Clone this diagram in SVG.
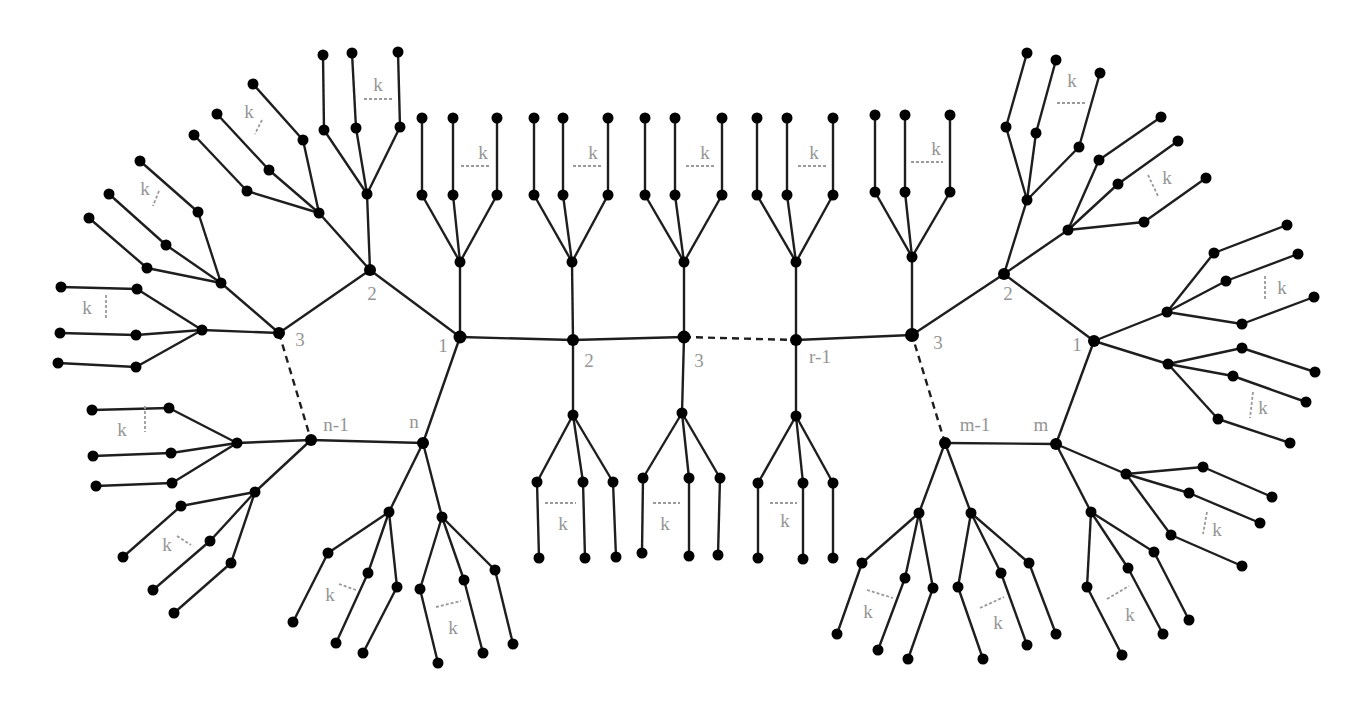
<svg xmlns="http://www.w3.org/2000/svg" width="1368" height="711" viewBox="0 0 1368 711">
<style>
.e line{stroke:#1e1e1e;stroke-width:2.4}
.e .d{stroke-dasharray:7 5}
circle{fill:#000}
.lb{font-family:"Liberation Serif",serif;font-size:19px;fill:#959595;text-anchor:middle}
.br{stroke:#9a9a9a;stroke-width:1.8;stroke-dasharray:3 2;fill:none}
</style>
<rect width="1368" height="711" fill="#fff"/>
<g id="connectors" class="e">
<line x1="460" y1="337" x2="370" y2="270"/>
<line x1="370" y1="270" x2="279" y2="333"/>
<line class="d" x1="279" y1="333" x2="311" y2="440"/>
<line x1="311" y1="440" x2="423" y2="443"/>
<line x1="423" y1="443" x2="460" y2="337"/>
<line x1="460" y1="337" x2="573" y2="340"/>
<line x1="573" y1="340" x2="684" y2="337"/>
<line class="d" x1="684" y1="337" x2="796" y2="340"/>
<line x1="796" y1="340" x2="912" y2="335"/>
<line x1="912" y1="335" x2="1004" y2="274"/>
<line x1="1004" y1="274" x2="1094" y2="341"/>
<line x1="1094" y1="341" x2="1056" y2="444"/>
<line x1="1056" y1="444" x2="945" y2="443"/>
<line class="d" x1="945" y1="443" x2="912" y2="335"/>
<!-- A -->
<line x1="370" y1="270" x2="367" y2="194"/><line x1="367" y1="194" x2="324" y2="130"/><line x1="367" y1="194" x2="356" y2="128"/><line x1="367" y1="194" x2="400" y2="127"/><line x1="324" y1="130" x2="323" y2="55"/><line x1="356" y1="128" x2="352" y2="53"/><line x1="400" y1="127" x2="398" y2="52"/>
<!-- B -->
<line x1="370" y1="270" x2="319" y2="213"/><line x1="319" y1="213" x2="303" y2="140"/><line x1="319" y1="213" x2="269" y2="170"/><line x1="319" y1="213" x2="247" y2="191"/><line x1="303" y1="140" x2="253" y2="84"/><line x1="269" y1="170" x2="217" y2="114"/><line x1="247" y1="191" x2="194" y2="135"/>
<!-- C -->
<line x1="279" y1="333" x2="221" y2="283"/><line x1="221" y1="283" x2="198" y2="212"/><line x1="221" y1="283" x2="166" y2="245"/><line x1="221" y1="283" x2="147" y2="268"/><line x1="198" y1="212" x2="140" y2="161"/><line x1="166" y1="245" x2="109" y2="194"/><line x1="147" y1="268" x2="89" y2="218"/>
<!-- D -->
<line x1="279" y1="333" x2="202" y2="330"/><line x1="202" y1="330" x2="137" y2="289"/><line x1="202" y1="330" x2="136" y2="335"/><line x1="202" y1="330" x2="136" y2="367"/><line x1="137" y1="289" x2="61" y2="287"/><line x1="136" y1="335" x2="60" y2="333"/><line x1="136" y1="367" x2="58" y2="363"/>
<!-- E -->
<line x1="311" y1="440" x2="237" y2="443"/><line x1="237" y1="443" x2="169" y2="408"/><line x1="237" y1="443" x2="171" y2="453"/><line x1="237" y1="443" x2="172" y2="483"/><line x1="169" y1="408" x2="92" y2="410"/><line x1="171" y1="453" x2="93" y2="456"/><line x1="172" y1="483" x2="96" y2="486"/>
<!-- F -->
<line x1="311" y1="440" x2="255" y2="492"/><line x1="255" y1="492" x2="181" y2="506"/><line x1="255" y1="492" x2="210" y2="541"/><line x1="255" y1="492" x2="231" y2="563"/><line x1="181" y1="506" x2="123" y2="557"/><line x1="210" y1="541" x2="153" y2="590"/><line x1="231" y1="563" x2="174" y2="613"/>
<!-- G -->
<line x1="423" y1="443" x2="389" y2="512"/><line x1="389" y1="512" x2="328" y2="553"/><line x1="389" y1="512" x2="368" y2="573"/><line x1="389" y1="512" x2="397" y2="587"/><line x1="328" y1="553" x2="293" y2="622"/><line x1="368" y1="573" x2="336" y2="643"/><line x1="397" y1="587" x2="363" y2="653"/>
<!-- H -->
<line x1="423" y1="443" x2="442" y2="517"/><line x1="442" y1="517" x2="420" y2="589"/><line x1="442" y1="517" x2="464" y2="580"/><line x1="442" y1="517" x2="495" y2="570"/><line x1="420" y1="589" x2="438" y2="663"/><line x1="464" y1="580" x2="483" y2="653"/><line x1="495" y1="570" x2="513" y2="644"/>
<!-- T1 -->
<line x1="460" y1="337" x2="460" y2="262"/><line x1="460" y1="262" x2="422" y2="195"/><line x1="460" y1="262" x2="453" y2="195"/><line x1="460" y1="262" x2="497" y2="195"/><line x1="422" y1="195" x2="422" y2="118"/><line x1="453" y1="195" x2="453" y2="118"/><line x1="497" y1="195" x2="497" y2="118"/>
<!-- T2 -->
<line x1="573" y1="340" x2="572" y2="262"/><line x1="572" y1="262" x2="534" y2="195"/><line x1="572" y1="262" x2="563" y2="195"/><line x1="572" y1="262" x2="608" y2="195"/><line x1="534" y1="195" x2="534" y2="118"/><line x1="563" y1="195" x2="563" y2="118"/><line x1="608" y1="195" x2="608" y2="118"/>
<!-- T3 -->
<line x1="684" y1="337" x2="684" y2="262"/><line x1="684" y1="262" x2="645" y2="195"/><line x1="684" y1="262" x2="675" y2="195"/><line x1="684" y1="262" x2="722" y2="195"/><line x1="645" y1="195" x2="645" y2="118"/><line x1="675" y1="195" x2="675" y2="118"/><line x1="722" y1="195" x2="722" y2="118"/>
<!-- T4 -->
<line x1="796" y1="340" x2="796" y2="262"/><line x1="796" y1="262" x2="757" y2="195"/><line x1="796" y1="262" x2="787" y2="195"/><line x1="796" y1="262" x2="833" y2="195"/><line x1="757" y1="195" x2="757" y2="118"/><line x1="787" y1="195" x2="787" y2="118"/><line x1="833" y1="195" x2="833" y2="118"/>
<!-- T5 -->
<line x1="912" y1="335" x2="912" y2="257"/><line x1="912" y1="257" x2="875" y2="192"/><line x1="912" y1="257" x2="905" y2="192"/><line x1="912" y1="257" x2="950" y2="192"/><line x1="875" y1="192" x2="875" y2="115"/><line x1="905" y1="192" x2="905" y2="115"/><line x1="950" y1="192" x2="950" y2="115"/>
<!-- B2 -->
<line x1="573" y1="340" x2="573" y2="415"/><line x1="573" y1="415" x2="537" y2="482"/><line x1="573" y1="415" x2="583" y2="482"/><line x1="573" y1="415" x2="613" y2="482"/><line x1="537" y1="482" x2="539" y2="558"/><line x1="583" y1="482" x2="585" y2="558"/><line x1="613" y1="482" x2="616" y2="557"/>
<!-- B3 -->
<line x1="684" y1="337" x2="682" y2="413"/><line x1="682" y1="413" x2="643" y2="478"/><line x1="682" y1="413" x2="689" y2="478"/><line x1="682" y1="413" x2="720" y2="478"/><line x1="643" y1="478" x2="642" y2="553"/><line x1="689" y1="478" x2="689" y2="556"/><line x1="720" y1="478" x2="718" y2="555"/>
<!-- B4 -->
<line x1="796" y1="340" x2="796" y2="416"/><line x1="796" y1="416" x2="758" y2="483"/><line x1="796" y1="416" x2="803" y2="483"/><line x1="796" y1="416" x2="833" y2="483"/><line x1="758" y1="483" x2="758" y2="558"/><line x1="803" y1="483" x2="803" y2="559"/><line x1="833" y1="483" x2="833" y2="558"/>
<!-- I -->
<line x1="1004" y1="274" x2="1027" y2="200"/><line x1="1027" y1="200" x2="1006" y2="127"/><line x1="1027" y1="200" x2="1036" y2="133"/><line x1="1027" y1="200" x2="1079" y2="147"/><line x1="1006" y1="127" x2="1027" y2="53"/><line x1="1036" y1="133" x2="1056" y2="60"/><line x1="1079" y1="147" x2="1100" y2="73"/>
<!-- J -->
<line x1="1004" y1="274" x2="1068" y2="230"/><line x1="1068" y1="230" x2="1099" y2="160"/><line x1="1068" y1="230" x2="1118" y2="184"/><line x1="1068" y1="230" x2="1144" y2="222"/><line x1="1099" y1="160" x2="1161" y2="117"/><line x1="1118" y1="184" x2="1178" y2="141"/><line x1="1144" y1="222" x2="1206" y2="178"/>
<!-- K -->
<line x1="1094" y1="341" x2="1167" y2="312"/><line x1="1167" y1="312" x2="1214" y2="253"/><line x1="1167" y1="312" x2="1226" y2="281"/><line x1="1167" y1="312" x2="1242" y2="324"/><line x1="1214" y1="253" x2="1287" y2="225"/><line x1="1226" y1="281" x2="1298" y2="254"/><line x1="1242" y1="324" x2="1314" y2="297"/>
<!-- Q -->
<line x1="1094" y1="341" x2="1168" y2="364"/><line x1="1168" y1="364" x2="1242" y2="348"/><line x1="1168" y1="364" x2="1233" y2="376"/><line x1="1168" y1="364" x2="1218" y2="419"/><line x1="1242" y1="348" x2="1315" y2="372"/><line x1="1233" y1="376" x2="1306" y2="402"/><line x1="1218" y1="419" x2="1290" y2="443"/>
<!-- M -->
<line x1="1056" y1="444" x2="1126" y2="474"/><line x1="1126" y1="474" x2="1203" y2="467"/><line x1="1126" y1="474" x2="1189" y2="493"/><line x1="1126" y1="474" x2="1171" y2="535"/><line x1="1203" y1="467" x2="1272" y2="497"/><line x1="1189" y1="493" x2="1260" y2="523"/><line x1="1171" y1="535" x2="1242" y2="566"/>
<!-- N -->
<line x1="1056" y1="444" x2="1091" y2="512"/><line x1="1091" y1="512" x2="1087" y2="587"/><line x1="1091" y1="512" x2="1128" y2="568"/><line x1="1091" y1="512" x2="1154" y2="552"/><line x1="1087" y1="587" x2="1122" y2="655"/><line x1="1128" y1="568" x2="1163" y2="634"/><line x1="1154" y1="552" x2="1189" y2="620"/>
<!-- O -->
<line x1="945" y1="443" x2="919" y2="513"/><line x1="919" y1="513" x2="862" y2="563"/><line x1="919" y1="513" x2="905" y2="578"/><line x1="919" y1="513" x2="933" y2="588"/><line x1="862" y1="563" x2="837" y2="634"/><line x1="905" y1="578" x2="878" y2="650"/><line x1="933" y1="588" x2="908" y2="659"/>
<!-- P -->
<line x1="945" y1="443" x2="971" y2="513"/><line x1="971" y1="513" x2="958" y2="587"/><line x1="971" y1="513" x2="1001" y2="573"/><line x1="971" y1="513" x2="1029" y2="563"/><line x1="958" y1="587" x2="983" y2="659"/><line x1="1001" y1="573" x2="1027" y2="645"/><line x1="1029" y1="563" x2="1056" y2="634"/>
</g>
<g id="brackets">
<line class="br" x1="364" y1="99" x2="394" y2="99"/>
<line class="br" x1="262" y1="120" x2="255" y2="134"/>
<line class="br" x1="159" y1="191" x2="153" y2="206"/>
<line class="br" x1="106" y1="295" x2="106" y2="319"/>
<line class="br" x1="145" y1="406" x2="145" y2="432"/>
<line class="br" x1="177" y1="536" x2="191" y2="545"/>
<line class="br" x1="339" y1="584" x2="356" y2="590"/>
<line class="br" x1="436" y1="607" x2="461" y2="601"/>
<line class="br" x1="461" y1="166" x2="490" y2="166"/>
<line class="br" x1="573" y1="166" x2="602" y2="166"/>
<line class="br" x1="686" y1="166" x2="714" y2="166"/>
<line class="br" x1="798" y1="166" x2="827" y2="166"/>
<line class="br" x1="911" y1="162" x2="943" y2="162"/>
<line class="br" x1="545" y1="503" x2="576" y2="503"/>
<line class="br" x1="653" y1="503" x2="680" y2="503"/>
<line class="br" x1="770" y1="503" x2="797" y2="503"/>
<line class="br" x1="1057" y1="103" x2="1087" y2="103"/>
<line class="br" x1="1148" y1="175" x2="1158" y2="196"/>
<line class="br" x1="1265" y1="276" x2="1265" y2="301"/>
<line class="br" x1="1253" y1="392" x2="1250" y2="418"/>
<line class="br" x1="1207" y1="512" x2="1203" y2="534"/>
<line class="br" x1="1107" y1="599" x2="1129" y2="586"/>
<line class="br" x1="867" y1="590" x2="893" y2="598"/>
<line class="br" x1="980" y1="608" x2="1004" y2="597"/>
</g>
<g id="labels" class="lb">
<text x="443" y="352">1</text>
<text x="372" y="300">2</text>
<text x="300" y="346">3</text>
<text x="336" y="431">n-1</text>
<text x="414" y="428">n</text>
<text x="589" y="367">2</text>
<text x="699" y="367">3</text>
<text x="820" y="363">r-1</text>
<text x="938" y="349">3</text>
<text x="1008" y="300">2</text>
<text x="1077" y="351">1</text>
<text x="1041" y="431">m</text>
<text x="975" y="431">m-1</text>
<text x="378" y="91">k</text>
<text x="249" y="118">k</text>
<text x="145" y="195">k</text>
<text x="87" y="314">k</text>
<text x="122" y="436">k</text>
<text x="167" y="551">k</text>
<text x="330" y="601">k</text>
<text x="453" y="634">k</text>
<text x="483" y="159">k</text>
<text x="593" y="159">k</text>
<text x="705" y="159">k</text>
<text x="814" y="159">k</text>
<text x="936" y="155">k</text>
<text x="563" y="530">k</text>
<text x="665" y="530">k</text>
<text x="785" y="527">k</text>
<text x="1072" y="87">k</text>
<text x="1167" y="184">k</text>
<text x="1282" y="294">k</text>
<text x="1263" y="414">k</text>
<text x="1217" y="536">k</text>
<text x="1130" y="621">k</text>
<text x="868" y="618">k</text>
<text x="998" y="629">k</text>
</g>
<g id="nodes">
<g id="L1"><circle cx="460" cy="337" r="6.5"/></g>
<g id="L2"><circle cx="370" cy="270" r="6"/></g>
<g id="L3"><circle cx="279" cy="333" r="6"/></g>
<g id="Ln1"><circle cx="311" cy="440" r="6"/></g>
<g id="Ln"><circle cx="423" cy="443" r="6"/></g>
<g id="P2"><circle cx="573" cy="340" r="6"/></g>
<g id="P3"><circle cx="684" cy="337" r="6.5"/></g>
<g id="Pr1"><circle cx="796" cy="340" r="6"/></g>
<g id="R3"><circle cx="912" cy="335" r="7"/></g>
<g id="R2"><circle cx="1004" cy="274" r="6"/></g>
<g id="R1"><circle cx="1094" cy="341" r="6"/></g>
<g id="Rm"><circle cx="1056" cy="444" r="6"/></g>
<g id="Rm1"><circle cx="945" cy="443" r="6"/></g>
<g id="A0"><circle cx="367" cy="194" r="5.5"/></g><g id="A1"><circle cx="324" cy="130" r="5.5"/></g><g id="A2"><circle cx="356" cy="128" r="5.5"/></g><g id="A3"><circle cx="400" cy="127" r="5.5"/></g><g id="A4"><circle cx="323" cy="55" r="5.5"/></g><g id="A5"><circle cx="352" cy="53" r="5.5"/></g><g id="A6"><circle cx="398" cy="52" r="5.5"/></g>
<g id="B0"><circle cx="319" cy="213" r="5.5"/></g><g id="B1"><circle cx="303" cy="140" r="5.5"/></g><g id="B2"><circle cx="269" cy="170" r="5.5"/></g><g id="B3"><circle cx="247" cy="191" r="5.5"/></g><g id="B4"><circle cx="253" cy="84" r="5.5"/></g><g id="B5"><circle cx="217" cy="114" r="5.5"/></g><g id="B6"><circle cx="194" cy="135" r="5.5"/></g>
<g id="C0"><circle cx="221" cy="283" r="5.5"/></g><g id="C1"><circle cx="198" cy="212" r="5.5"/></g><g id="C2"><circle cx="166" cy="245" r="5.5"/></g><g id="C3"><circle cx="147" cy="268" r="5.5"/></g><g id="C4"><circle cx="140" cy="161" r="5.5"/></g><g id="C5"><circle cx="109" cy="194" r="5.5"/></g><g id="C6"><circle cx="89" cy="218" r="5.5"/></g>
<g id="D0"><circle cx="202" cy="330" r="5.5"/></g><g id="D1"><circle cx="137" cy="289" r="5.5"/></g><g id="D2"><circle cx="136" cy="335" r="5.5"/></g><g id="D3"><circle cx="136" cy="367" r="5.5"/></g><g id="D4"><circle cx="61" cy="287" r="5.5"/></g><g id="D5"><circle cx="60" cy="333" r="5.5"/></g><g id="D6"><circle cx="58" cy="363" r="5.5"/></g>
<g id="E0"><circle cx="237" cy="443" r="5.5"/></g><g id="E1"><circle cx="169" cy="408" r="5.5"/></g><g id="E2"><circle cx="171" cy="453" r="5.5"/></g><g id="E3"><circle cx="172" cy="483" r="5.5"/></g><g id="E4"><circle cx="92" cy="410" r="5.5"/></g><g id="E5"><circle cx="93" cy="456" r="5.5"/></g><g id="E6"><circle cx="96" cy="486" r="5.5"/></g>
<g id="F0"><circle cx="255" cy="492" r="5.5"/></g><g id="F1"><circle cx="181" cy="506" r="5.5"/></g><g id="F2"><circle cx="210" cy="541" r="5.5"/></g><g id="F3"><circle cx="231" cy="563" r="5.5"/></g><g id="F4"><circle cx="123" cy="557" r="5.5"/></g><g id="F5"><circle cx="153" cy="590" r="5.5"/></g><g id="F6"><circle cx="174" cy="613" r="5.5"/></g>
<g id="G0"><circle cx="389" cy="512" r="5.5"/></g><g id="G1"><circle cx="328" cy="553" r="5.5"/></g><g id="G2"><circle cx="368" cy="573" r="5.5"/></g><g id="G3"><circle cx="397" cy="587" r="5.5"/></g><g id="G4"><circle cx="293" cy="622" r="5.5"/></g><g id="G5"><circle cx="336" cy="643" r="5.5"/></g><g id="G6"><circle cx="363" cy="653" r="5.5"/></g>
<g id="H0"><circle cx="442" cy="517" r="5.5"/></g><g id="H1"><circle cx="420" cy="589" r="5.5"/></g><g id="H2"><circle cx="464" cy="580" r="5.5"/></g><g id="H3"><circle cx="495" cy="570" r="5.5"/></g><g id="H4"><circle cx="438" cy="663" r="5.5"/></g><g id="H5"><circle cx="483" cy="653" r="5.5"/></g><g id="H6"><circle cx="513" cy="644" r="5.5"/></g>
<g id="T10"><circle cx="460" cy="262" r="5.5"/></g><g id="T11"><circle cx="422" cy="195" r="5.5"/></g><g id="T12"><circle cx="453" cy="195" r="5.5"/></g><g id="T13"><circle cx="497" cy="195" r="5.5"/></g><g id="T14"><circle cx="422" cy="118" r="5.5"/></g><g id="T15"><circle cx="453" cy="118" r="5.5"/></g><g id="T16"><circle cx="497" cy="118" r="5.5"/></g>
<g id="T20"><circle cx="572" cy="262" r="5.5"/></g><g id="T21"><circle cx="534" cy="195" r="5.5"/></g><g id="T22"><circle cx="563" cy="195" r="5.5"/></g><g id="T23"><circle cx="608" cy="195" r="5.5"/></g><g id="T24"><circle cx="534" cy="118" r="5.5"/></g><g id="T25"><circle cx="563" cy="118" r="5.5"/></g><g id="T26"><circle cx="608" cy="118" r="5.5"/></g>
<g id="T30"><circle cx="684" cy="262" r="5.5"/></g><g id="T31"><circle cx="645" cy="195" r="5.5"/></g><g id="T32"><circle cx="675" cy="195" r="5.5"/></g><g id="T33"><circle cx="722" cy="195" r="5.5"/></g><g id="T34"><circle cx="645" cy="118" r="5.5"/></g><g id="T35"><circle cx="675" cy="118" r="5.5"/></g><g id="T36"><circle cx="722" cy="118" r="5.5"/></g>
<g id="T40"><circle cx="796" cy="262" r="5.5"/></g><g id="T41"><circle cx="757" cy="195" r="5.5"/></g><g id="T42"><circle cx="787" cy="195" r="5.5"/></g><g id="T43"><circle cx="833" cy="195" r="5.5"/></g><g id="T44"><circle cx="757" cy="118" r="5.5"/></g><g id="T45"><circle cx="787" cy="118" r="5.5"/></g><g id="T46"><circle cx="833" cy="118" r="5.5"/></g>
<g id="T50"><circle cx="912" cy="257" r="5.5"/></g><g id="T51"><circle cx="875" cy="192" r="5.5"/></g><g id="T52"><circle cx="905" cy="192" r="5.5"/></g><g id="T53"><circle cx="950" cy="192" r="5.5"/></g><g id="T54"><circle cx="875" cy="115" r="5.5"/></g><g id="T55"><circle cx="905" cy="115" r="5.5"/></g><g id="T56"><circle cx="950" cy="115" r="5.5"/></g>
<g id="BB20"><circle cx="573" cy="415" r="5.5"/></g><g id="BB21"><circle cx="537" cy="482" r="5.5"/></g><g id="BB22"><circle cx="583" cy="482" r="5.5"/></g><g id="BB23"><circle cx="613" cy="482" r="5.5"/></g><g id="BB24"><circle cx="539" cy="558" r="5.5"/></g><g id="BB25"><circle cx="585" cy="558" r="5.5"/></g><g id="BB26"><circle cx="616" cy="557" r="5.5"/></g>
<g id="BB30"><circle cx="682" cy="413" r="5.5"/></g><g id="BB31"><circle cx="643" cy="478" r="5.5"/></g><g id="BB32"><circle cx="689" cy="478" r="5.5"/></g><g id="BB33"><circle cx="720" cy="478" r="5.5"/></g><g id="BB34"><circle cx="642" cy="553" r="5.5"/></g><g id="BB35"><circle cx="689" cy="556" r="5.5"/></g><g id="BB36"><circle cx="718" cy="555" r="5.5"/></g>
<g id="BB40"><circle cx="796" cy="416" r="5.5"/></g><g id="BB41"><circle cx="758" cy="483" r="5.5"/></g><g id="BB42"><circle cx="803" cy="483" r="5.5"/></g><g id="BB43"><circle cx="833" cy="483" r="5.5"/></g><g id="BB44"><circle cx="758" cy="558" r="5.5"/></g><g id="BB45"><circle cx="803" cy="559" r="5.5"/></g><g id="BB46"><circle cx="833" cy="558" r="5.5"/></g>
<g id="I0"><circle cx="1027" cy="200" r="5.5"/></g><g id="I1"><circle cx="1006" cy="127" r="5.5"/></g><g id="I2"><circle cx="1036" cy="133" r="5.5"/></g><g id="I3"><circle cx="1079" cy="147" r="5.5"/></g><g id="I4"><circle cx="1027" cy="53" r="5.5"/></g><g id="I5"><circle cx="1056" cy="60" r="5.5"/></g><g id="I6"><circle cx="1100" cy="73" r="5.5"/></g>
<g id="J0"><circle cx="1068" cy="230" r="5.5"/></g><g id="J1"><circle cx="1099" cy="160" r="5.5"/></g><g id="J2"><circle cx="1118" cy="184" r="5.5"/></g><g id="J3"><circle cx="1144" cy="222" r="5.5"/></g><g id="J4"><circle cx="1161" cy="117" r="5.5"/></g><g id="J5"><circle cx="1178" cy="141" r="5.5"/></g><g id="J6"><circle cx="1206" cy="178" r="5.5"/></g>
<g id="K0"><circle cx="1167" cy="312" r="5.5"/></g><g id="K1"><circle cx="1214" cy="253" r="5.5"/></g><g id="K2"><circle cx="1226" cy="281" r="5.5"/></g><g id="K3"><circle cx="1242" cy="324" r="5.5"/></g><g id="K4"><circle cx="1287" cy="225" r="5.5"/></g><g id="K5"><circle cx="1298" cy="254" r="5.5"/></g><g id="K6"><circle cx="1314" cy="297" r="5.5"/></g>
<g id="Q0"><circle cx="1168" cy="364" r="5.5"/></g><g id="Q1"><circle cx="1242" cy="348" r="5.5"/></g><g id="Q2"><circle cx="1233" cy="376" r="5.5"/></g><g id="Q3"><circle cx="1218" cy="419" r="5.5"/></g><g id="Q4"><circle cx="1315" cy="372" r="5.5"/></g><g id="Q5"><circle cx="1306" cy="402" r="5.5"/></g><g id="Q6"><circle cx="1290" cy="443" r="5.5"/></g>
<g id="M0"><circle cx="1126" cy="474" r="5.5"/></g><g id="M1"><circle cx="1203" cy="467" r="5.5"/></g><g id="M2"><circle cx="1189" cy="493" r="5.5"/></g><g id="M3"><circle cx="1171" cy="535" r="5.5"/></g><g id="M4"><circle cx="1272" cy="497" r="5.5"/></g><g id="M5"><circle cx="1260" cy="523" r="5.5"/></g><g id="M6"><circle cx="1242" cy="566" r="5.5"/></g>
<g id="N0"><circle cx="1091" cy="512" r="5.5"/></g><g id="N1"><circle cx="1087" cy="587" r="5.5"/></g><g id="N2"><circle cx="1128" cy="568" r="5.5"/></g><g id="N3"><circle cx="1154" cy="552" r="5.5"/></g><g id="N4"><circle cx="1122" cy="655" r="5.5"/></g><g id="N5"><circle cx="1163" cy="634" r="5.5"/></g><g id="N6"><circle cx="1189" cy="620" r="5.5"/></g>
<g id="O0"><circle cx="919" cy="513" r="5.5"/></g><g id="O1"><circle cx="862" cy="563" r="5.5"/></g><g id="O2"><circle cx="905" cy="578" r="5.5"/></g><g id="O3"><circle cx="933" cy="588" r="5.5"/></g><g id="O4"><circle cx="837" cy="634" r="5.5"/></g><g id="O5"><circle cx="878" cy="650" r="5.5"/></g><g id="O6"><circle cx="908" cy="659" r="5.5"/></g>
<g id="PP0"><circle cx="971" cy="513" r="5.5"/></g><g id="PP1"><circle cx="958" cy="587" r="5.5"/></g><g id="PP2"><circle cx="1001" cy="573" r="5.5"/></g><g id="PP3"><circle cx="1029" cy="563" r="5.5"/></g><g id="PP4"><circle cx="983" cy="659" r="5.5"/></g><g id="PP5"><circle cx="1027" cy="645" r="5.5"/></g><g id="PP6"><circle cx="1056" cy="634" r="5.5"/></g>
</g>
</svg>
